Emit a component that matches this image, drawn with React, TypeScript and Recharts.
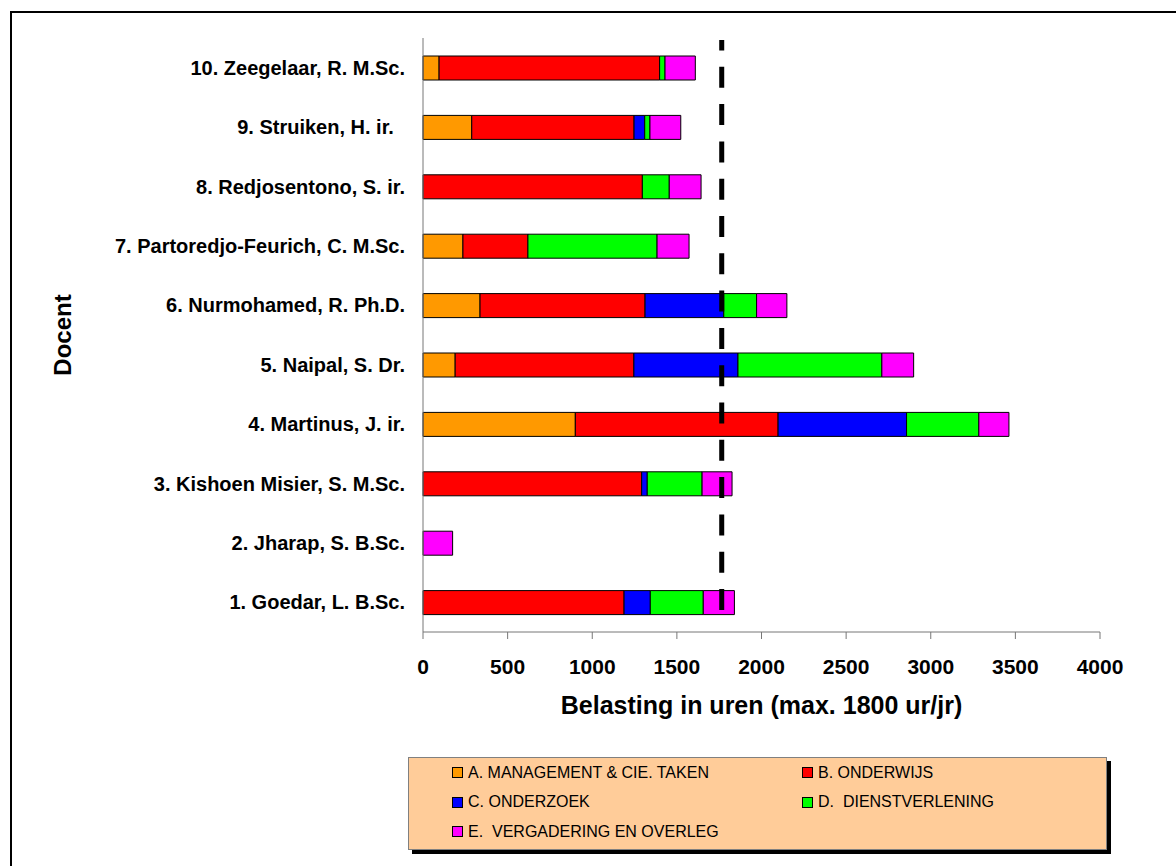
import React from "react";
import { BarChart, Bar, XAxis, YAxis, ReferenceLine } from "recharts";

// docenten, onderaan 1 en bovenaan 10
const docenten = [
  "1. Goedar, L. B.Sc.",
  "2. Jharap, S. B.Sc.",
  "3. Kishoen Misier, S. M.Sc.",
  "4. Martinus, J. ir.",
  "5. Naipal, S. Dr.",
  "6. Nurmohamed, R. Ph.D.",
  "7. Partoredjo-Feurich, C. M.Sc.",
  "8. Redjosentono, S. ir.",
  "9. Struiken, H. ir.\u00a0\u00a0",
  "10. Zeegelaar, R. M.Sc.",
];

// uren per taak, zelfde volgorde als docenten
const management = [0, 0, 0, 900, 190, 337, 236, 0, 288, 95];
const onderwijs = [1188, 0, 1292, 1198, 1056, 975, 384, 1296, 959, 1303];
const onderzoek = [155, 0, 33, 759, 615, 465, 0, 0, 63, 0];
const dienstverlening = [313, 0, 324, 427, 850, 194, 763, 159, 31, 32];
const vergadering = [184, 175, 177, 178, 188, 179, 189, 188, 182, 179];

const xTicks = [0, 500, 1000, 1500, 2000, 2500, 3000, 3500, 4000];
const maxUren = 1765;

const series = [
  { key: "A", name: "A. MANAGEMENT & CIE. TAKEN", color: "#FF9900", values: management },
  { key: "B", name: "B. ONDERWIJS", color: "#FF0000", values: onderwijs },
  { key: "C", name: "C. ONDERZOEK", color: "#0000FF", values: onderzoek },
  { key: "D", name: "D.  DIENSTVERLENING", color: "#00FF00", values: dienstverlening },
  { key: "E", name: "E.  VERGADERING EN OVERLEG", color: "#FF00FF", values: vergadering },
];

const data = docenten.map((d, i) => {
  const row: Record<string, string | number> = { docent: d };
  series.forEach((s) => (row[s.key] = s.values[i]));
  return row;
});

const font = "'Liberation Sans', Arial, sans-serif";

export default function App() {
  return (
    <div
      style={{
        position: "absolute",
        left: 0,
        top: 0,
        width: 1176,
        height: 866,
        overflow: "hidden",
        background: "#fff",
        fontFamily: font,
      }}
    >
      {/* kader rond de grafiek */}
      <div
        style={{
          position: "absolute",
          left: 10,
          top: 11,
          width: 1200,
          height: 900,
          border: "2px solid #000",
        }}
      />
      <div style={{ position: "absolute", left: 0, top: 0 }}>
        <BarChart
          width={1176}
          height={866}
          data={data}
          layout="vertical"
          margin={{ top: 38, right: 76, bottom: 134, left: 0 }}
          barSize={24}
        >
          <XAxis
            type="number"
            domain={[0, 4000]}
            ticks={xTicks}
            interval={0}
            stroke="#777"
            tickSize={7}
            tickMargin={20}
            tick={{ fill: "#000", fontSize: 21, fontWeight: 700, fontFamily: font }}
            height={100}
            label={{
              content: (p: any) => {
                const vb = p.viewBox ?? {};
                return (
                  <text
                    x={vb.x + vb.width / 2}
                    y={vb.y + 82}
                    textAnchor="middle"
                    fill="#000"
                    fontSize={25}
                    fontWeight={700}
                    fontFamily={font}
                  >
                    Belasting in uren (max. 1800 ur/jr)
                  </text>
                );
              },
            }}
          />
          <YAxis
            type="category"
            dataKey="docent"
            reversed
            width={423}
            stroke="#777"
            tickLine={false}
            tickSize={0}
            tickMargin={18}
            interval={0}
            tick={{ fill: "#000", fontSize: 20, fontWeight: 700, fontFamily: font }}
            label={{
              content: (p: any) => {
                const vb = p.viewBox ?? {};
                const cy = vb.y + vb.height / 2;
                return (
                  <text
                    x={62}
                    y={cy}
                    transform={`rotate(-90 62 ${cy})`}
                    textAnchor="middle"
                    dominantBaseline="central"
                    fill="#000"
                    fontSize={24}
                    fontWeight={700}
                    fontFamily={font}
                  >
                    Docent
                  </text>
                );
              },
            }}
          />
          {series.map((s) => (
            <Bar
              key={s.key}
              dataKey={s.key}
              name={s.name}
              stackId="uren"
              fill={s.color}
              stroke="#000"
              strokeWidth={1}
              isAnimationActive={false}
            />
          ))}
          {/* norm: gestreepte lijn bij ~1800 uur */}
          <ReferenceLine
            x={maxUren}
            shape={(p: any) => (
              <line
                x1={p.x1}
                x2={p.x2}
                y1={p.y1 - 22}
                y2={p.y2 + 2}
                stroke="#000"
                strokeWidth={5}
                strokeDasharray="21 16.3"
              />
            )}
          />
        </BarChart>
      </div>
      <Legenda />
    </div>
  );
}

function Legenda() {
  const rows = [series.slice(0, 2), series.slice(2, 4), series.slice(4)];
  return (
    <div
      style={{
        position: "absolute",
        left: 408,
        top: 757,
        width: 697,
        height: 91,
        background: "#FFCC99",
        border: "1px solid #808080",
        boxShadow: "4px 4px 0 #000",
      }}
    >
      {rows.map((row, r) =>
        row.map((s, c) => (
          <div
            key={s.key}
            style={{
              position: "absolute",
              left: c === 0 ? 43 : 393,
              top: 14.5 + r * 29.5 - 9,
              height: 18,
              display: "flex",
              alignItems: "center",
              fontSize: 16,
              color: "#000",
              whiteSpace: "pre",
            }}
          >
            <span
              style={{
                display: "inline-block",
                width: 9,
                height: 9,
                background: s.color,
                border: "1px solid #000",
                marginRight: 5,
              }}
            />
            {s.name}
          </div>
        ))
      )}
    </div>
  );
}
